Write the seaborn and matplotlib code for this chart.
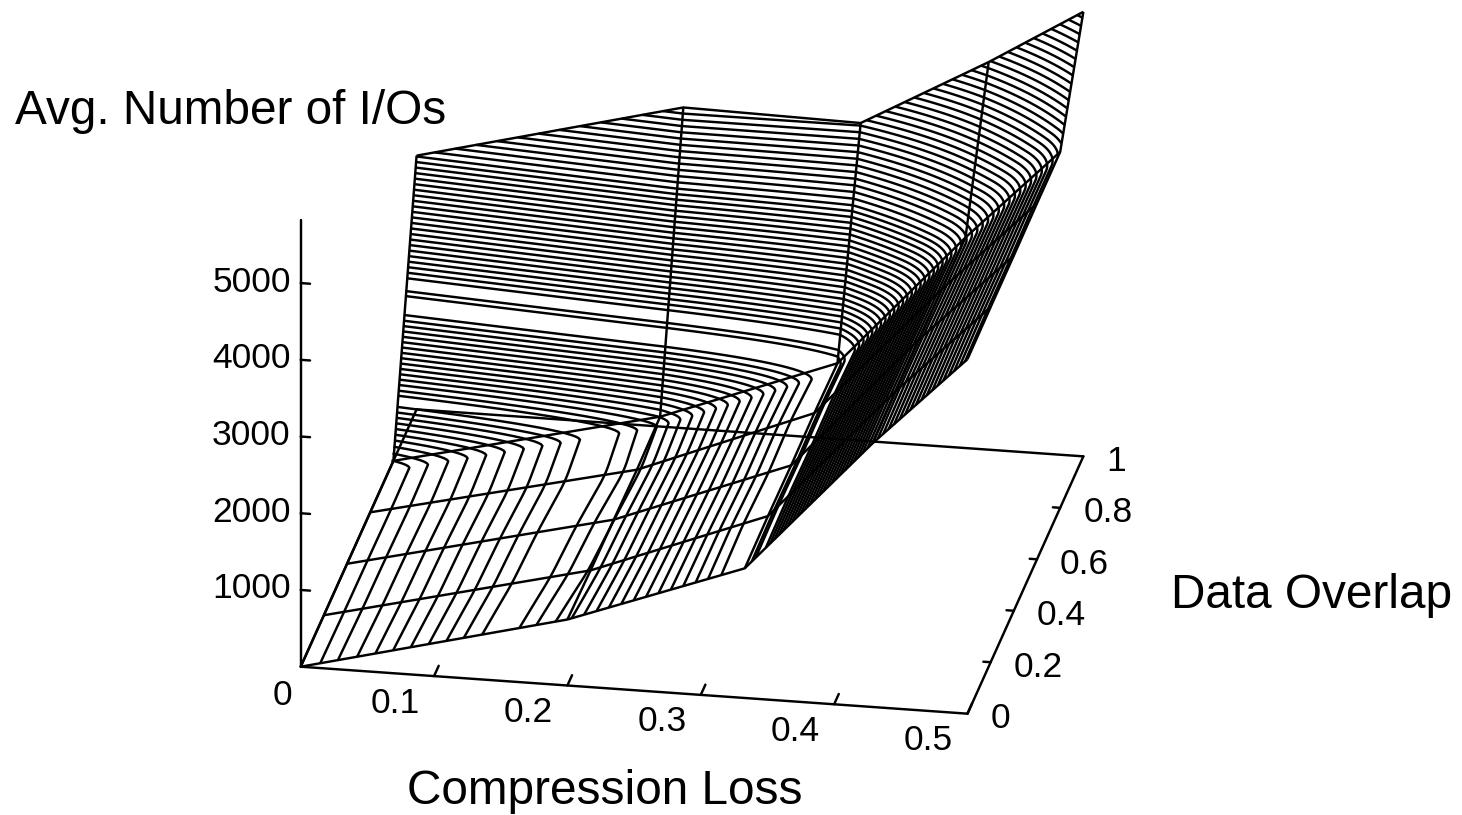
import numpy as np
import seaborn as sns
import matplotlib
matplotlib.use('Agg')
import matplotlib.pyplot as plt
from mpl_toolkits.mplot3d import proj3d

# surface nodes
loss = [0, 0.2, 0.333, 0.429, 0.5]
overlap = [0, 0.2, 0.4, 0.6, 0.8, 1]
ios_o00 = [0, 860, 1690, 3440, 4620]
ios_o02 = [0, 830, 1700, 3450, 4630]
ios_o04 = [0, 820, 1690, 3450, 4630]
ios_o06 = [0, 800, 1700, 3440, 4640]
ios_o08 = [0, 820, 1680, 3437, 4640]
ios_o10 = [3307, 4180, 4140, 5052, 5794]

# contour heights, the gaps are in the original too
levels_low = [63, 120, 182, 241, 298, 355, 413, 470, 526, 585, 705, 760, 822, 880, 938, 996,
              1054, 1112, 1170, 1228, 1286, 1344, 1402, 1460, 1518, 1580, 1785, 1839]
levels_mid = [1978, 2038, 2098, 2158, 2218, 2278, 2338, 2398, 2458, 2518, 2578, 2638, 2698,
              2758, 2818, 2878, 2938, 2998, 3058, 3118, 3178, 3238, 3298]
levels_high = [3366, 3434, 3502, 3570, 3638, 3706, 3774, 3842, 3910, 3978, 4046, 4114, 4182,
               4250, 4318, 4386, 4454, 4522, 4590, 4658, 4726, 4794, 4862, 4930, 4998, 5066,
               5134, 5202, 5270, 5338, 5406, 5474, 5542, 5610, 5678, 5746]

loss_ticks = [0.1, 0.2, 0.3, 0.4, 0.5]
loss_labels = ['0.1', '0.2', '0.3', '0.4', '0.5']
overlap_ticks = [0, 0.2, 0.4, 0.6, 0.8, 1]
overlap_labels = ['0', '0.2', '0.4', '0.6', '0.8', '1']
io_ticks = [1000, 2000, 3000, 4000, 5000]
io_labels = ['1000', '2000', '3000', '4000', '5000']
loss_lim = (0, 0.5)
overlap_lim = (0, 1)
io_lim = (0, 5816)

W, H = 1462, 815

sns.set_theme(style='white')
plt.rcParams['font.family'] = ['Liberation Sans', 'DejaVu Sans']

fig = plt.figure(figsize=(W / 100, H / 100), dpi=100)
ax = fig.add_axes([0, 0, 800 / W, 800 / H], projection='3d', proj_type='ortho')
ax.set_box_aspect((677.5, 661, 486))
ax.view_init(elev=23.3, azim=-79.9)

X, Y = np.meshgrid(loss, overlap)
Z = np.array([ios_o00, ios_o02, ios_o04, ios_o06, ios_o08, ios_o10], dtype=float)


# each cell is bilinear, a finer grid makes the contours bend like that
def refine(nodes, steps=40):
    parts = [np.linspace(a, b, steps, endpoint=False) for a, b in zip(nodes[:-1], nodes[1:])]
    return np.concatenate(parts + [[nodes[-1]]])


loss_fine = refine(loss)
overlap_fine = refine(overlap)
Z_rows = np.array([np.interp(loss_fine, loss, row) for row in Z])
Z_fine = np.array([np.interp(overlap_fine, overlap, col) for col in Z_rows.T]).T

# round the crease so contours turn softly at the ridge, the original used spline contours
half = 8
Z_soft = Z_fine.copy()
for i in range(half, len(overlap_fine) - half):
    Z_soft[i] = Z_fine[i - half:i + half + 1].mean(axis=0)

XF, YF = np.meshgrid(loss_fine, overlap_fine)

lw = 1.75
ax.contour(XF, YF, Z_soft, levels=levels_low + levels_mid + levels_high, colors='black', linewidths=lw)
ax.plot_wireframe(X, Y, Z, color='black', linewidth=lw)

# base and axes
l0, l1 = loss_lim
o0, o1 = overlap_lim
for xs, ys in [((l0, l1), (o0, o0)), ((l1, l1), (o0, o1)), ((l0, l1), (o1, o1)), ((l0, l0), (o0, o1))]:
    ax.plot(xs, ys, (0, 0), color='black', linewidth=lw)
ax.plot((l0, l0), (o0, o0), io_lim, color='black', linewidth=lw)

for t in loss_ticks:
    ax.plot((t, t), (o0, o0 + 0.04), (0, 0), color='black', linewidth=lw)
for t in overlap_ticks[1:-1]:
    ax.plot((l1, l1 - 0.0055), (t, t), (0, 0), color='black', linewidth=lw)
for t in io_ticks:
    ax.plot((l0, l0 + 0.007), (o0, o0), (t, t), color='black', linewidth=lw)

ax.set_xlim(*loss_lim)
ax.set_ylim(*overlap_lim)
ax.set_zlim(*io_lim)
ax.set_axis_off()


def to_px(l, o, z):
    ax.apply_aspect()
    xp, yp, _ = proj3d.proj_transform(l, o, z, ax.get_proj())
    return ax.transData.transform((xp, yp))


# fit the box onto the pixels of the original: origin and the far floor corner
corner_a = np.array([300.7, H - 666.7])
corner_b = np.array([1083.0, H - 455.0])
side = 800 * np.linalg.norm(corner_b - corner_a) / np.linalg.norm(to_px(l1, o1, 0) - to_px(l0, o0, 0))
ax.set_position([0, 0, side / W, side / H])
shift = corner_a - to_px(l0, o0, 0)
ax.set_position([shift[0] / W, shift[1] / H, side / W, side / H])


# tick labels sit at a pixel offset from where the tick lands
def tick_label(l, o, z, s, dx, dy, ha):
    px = to_px(l, o, z)
    fig.text((px[0] + dx) / W, (px[1] - dy) / H, s, ha=ha, va='center', fontsize=25.5, color='black')


for t, s in zip(loss_ticks, loss_labels):
    tick_label(t, o0, 0, s, -39, 27, 'center')
tick_label(l0, o0, 0, '0', -18, 29, 'center')
for t, s in zip(overlap_ticks, overlap_labels):
    tick_label(l1, t, 0, s, 23, 5, 'left')
for t, s in zip(io_ticks, io_labels):
    tick_label(l0, o0, t, s, -10, -1, 'right')

fig.text(231 / W, 1 - 111 / H, 'Avg. Number of I/Os', fontsize=34.4, ha='center', va='center', color='black')
fig.text(1312 / W, 1 - 595 / H, 'Data Overlap', fontsize=34.4, ha='center', va='center', color='black')
fig.text(605 / W, 1 - 791 / H, 'Compression Loss', fontsize=34.4, ha='center', va='center', color='black')

fig.savefig('out.png', dpi=100)
